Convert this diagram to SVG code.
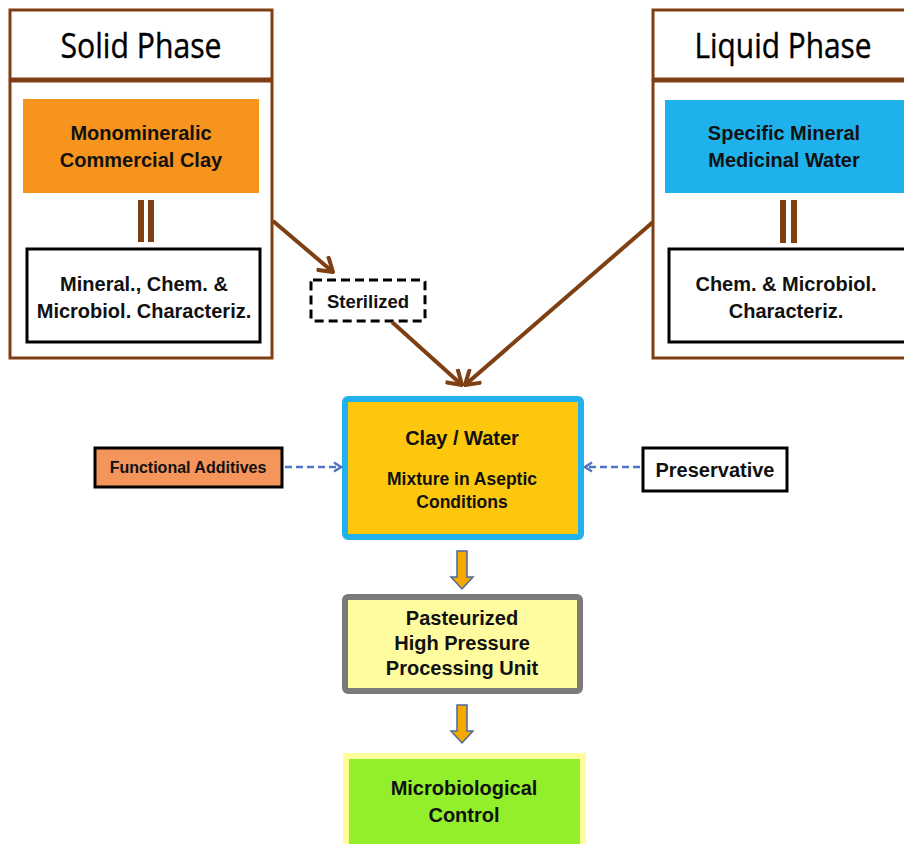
<svg xmlns="http://www.w3.org/2000/svg" width="904" height="844" viewBox="0 0 904 844">
<defs>
<style>
.phase{fill:#fff;stroke:#7F3F12;stroke-width:3}
.title{font-family:"Open Sans","Liberation Sans",sans-serif;font-size:34px;fill:#000;text-anchor:middle;stroke:#000;stroke-width:0.4}
.b{font-family:"Liberation Sans",Arial,sans-serif;font-weight:bold;fill:#111;text-anchor:middle}
.f19{font-size:20px}
.f17{font-size:17.5px}
.f15{font-size:16px}
.blk{fill:#fff;stroke:#000;stroke-width:3}
.brown{stroke:#7F3F12;stroke-width:4;fill:none}
.dash{stroke:#4F74C8;stroke-width:2.5;stroke-dasharray:7,4;fill:none}
.bar{fill:#7F3F12}
.block{fill:#F5A800;stroke:#4A6A9E;stroke-width:1.5}
</style>
<marker id="ah" viewBox="0 0 20 20" refX="18" refY="10" markerWidth="20" markerHeight="20" markerUnits="userSpaceOnUse" orient="auto">
<path d="M4,1 L18,10 L4,19" fill="none" stroke="#7F3F12" stroke-width="4"/>
</marker>
<marker id="ahb" viewBox="0 0 12 12" refX="10" refY="6" markerWidth="12" markerHeight="12" markerUnits="userSpaceOnUse" orient="auto">
<path d="M3,1.5 L10,6 L3,10.5" fill="none" stroke="#4F74C8" stroke-width="2.5"/>
</marker>
</defs>
<rect width="904" height="844" fill="#fff"/>

<g id="solid-phase">
<rect class="phase" x="10" y="10" width="262" height="69"/>
<rect class="phase" x="10" y="81" width="262" height="277"/>
<text class="title" x="141" y="58" textLength="161" lengthAdjust="spacingAndGlyphs">Solid Phase</text>
</g>
<g id="clay">
<rect x="23" y="99" width="236" height="94" fill="#F7941D"/>
<text class="b f19" x="141" y="140">Monomineralic</text>
<text class="b f19" x="141" y="167">Commercial Clay</text>
</g>
<g id="solid-char">
<rect class="blk" x="27" y="249" width="233" height="93"/>
<text class="b f19" x="144" y="291">Mineral., Chem. &amp;</text>
<text class="b f19" x="144" y="318">Microbiol. Characteriz.</text>
</g>

<g id="liquid-phase">
<rect class="phase" x="653" y="10" width="260" height="69"/>
<rect class="phase" x="653" y="81" width="260" height="277"/>
<text class="title" x="783" y="58" textLength="177" lengthAdjust="spacingAndGlyphs">Liquid Phase</text>
</g>
<g id="water">
<rect x="665" y="100" width="240" height="93" fill="#1FB1EC"/>
<text class="b f19" x="784" y="140">Specific Mineral</text>
<text class="b f19" x="784" y="167">Medicinal Water</text>
</g>
<g id="liquid-char">
<rect class="blk" x="669" y="249" width="240" height="93"/>
<text class="b f19" x="786" y="291">Chem. &amp; Microbiol.</text>
<text class="b f19" x="786" y="318">Characteriz.</text>
</g>

<g id="sterilized">
<rect x="311" y="280" width="114" height="41" rx="2" fill="#fff" stroke="#000" stroke-width="3" stroke-dasharray="9,5"/>
<text class="b" x="368" y="308" font-size="18.5">Sterilized</text>
</g>

<g id="mixture">
<rect x="345" y="399" width="236" height="138" rx="3" fill="#FCC70C" stroke="#22B0EE" stroke-width="6"/>
<text class="b f19" x="462" y="445">Clay / Water</text>
<text class="b f17" x="462" y="485">Mixture in Aseptic</text>
<text class="b f17" x="462" y="508">Conditions</text>
</g>

<g id="additives">
<rect x="95" y="448" width="187" height="39" fill="#F4955C" stroke="#000" stroke-width="3"/>
<text class="b f15" x="188" y="473">Functional Additives</text>
</g>

<g id="preservative">
<rect class="blk" x="643" y="448" width="144" height="43"/>
<text class="b f19" x="715" y="477">Preservative</text>
</g>

<g id="pasteurized">
<rect x="345" y="597" width="235" height="94" rx="3" fill="#FFFCA0" stroke="#7A7A7A" stroke-width="6"/>
<text class="b f19" x="462" y="625">Pasteurized</text>
<text class="b f19" x="462" y="650">High Pressure</text>
<text class="b f19" x="462" y="675">Processing Unit</text>
</g>

<g id="control">
<rect x="346" y="756" width="237" height="100" fill="#93EE2C" stroke="#FFFC9A" stroke-width="6"/>
<text class="b f19" x="464" y="795">Microbiological</text>
<text class="b f19" x="464" y="822">Control</text>
</g>

<g id="connectors">
<rect class="bar" x="138" y="200" width="6" height="42"/>
<rect class="bar" x="148" y="200" width="6" height="42"/>
<rect class="bar" x="780" y="200" width="6" height="43"/>
<rect class="bar" x="791" y="200" width="6" height="43"/>
<line class="brown" x1="273" y1="221" x2="333" y2="272" marker-end="url(#ah)"/>
<line class="brown" x1="392" y1="322" x2="462" y2="385" marker-end="url(#ah)"/>
<line class="brown" x1="653" y1="222" x2="465" y2="385" marker-end="url(#ah)"/>
<line class="dash" x1="285" y1="467" x2="341" y2="467" marker-end="url(#ahb)"/>
<line class="dash" x1="640" y1="467" x2="585" y2="467" marker-end="url(#ahb)"/>
<polygon class="block" points="457,551 467,551 467,577 473,577 462,589 451,577 457,577"/>
<polygon class="block" points="457,705 467,705 467,731 473,731 462,743 451,731 457,731"/>
</g>
</svg>
